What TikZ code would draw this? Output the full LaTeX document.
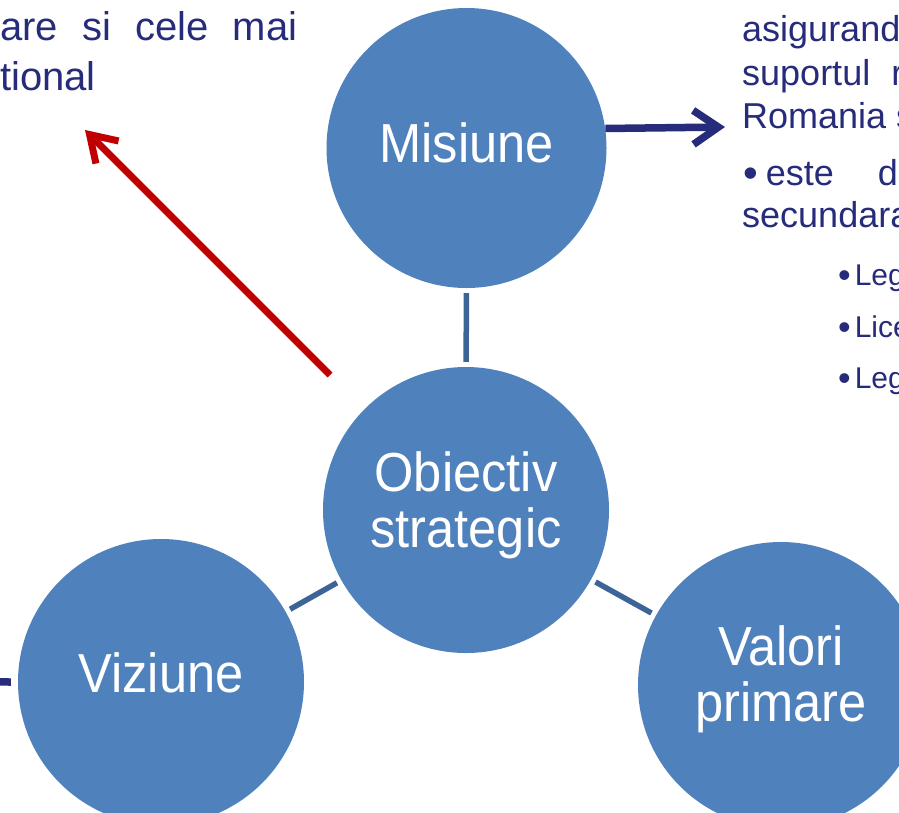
\documentclass[tikz,border=0pt]{standalone}
\usepackage{fontspec}
\setmainfont{Liberation Sans}
\newfontfamily\narrowfont[FakeStretch=0.92]{Liberation Sans}
\usepackage{tikz}
\usetikzlibrary{arrows.meta}
\definecolor{topicfill}{HTML}{4F81BD}
\definecolor{linkcolor}{HTML}{3C6496}
\definecolor{navycolor}{HTML}{262B7A}
\definecolor{redcolor}{HTML}{C00000}
\newcommand{\bigbullet}[1]{\raisebox{-2.5pt}{\fontsize{#1}{#1}\selectfont\textbullet}}

\begin{document}
\begin{tikzpicture}[x=1pt, y=-1pt,
    topic/.style={circle, fill=topicfill, inner sep=0pt, minimum size=286pt, text=white, align=center, font=\narrowfont\fontsize{55}{56}\selectfont},
    link/.style={draw=linkcolor, line width=5.5pt, shorten <=5pt, shorten >=5pt},
    navyarrow/.style={draw=navycolor, line width=7.5pt, -{Straight Barb[length=25pt, width=34pt]}},
    redarrow/.style={draw=redcolor, line width=7pt, -{Straight Barb[length=25pt, width=32pt]}},
    body/.style={text=navycolor, inner sep=0pt, anchor=base west, font=\fontsize{36}{43}\selectfont},
    subbody/.style={body, font=\fontsize{30}{36}\selectfont},
  ]
  \useasboundingbox (0,0) rectangle (899,812);
  \clip (0,0) rectangle (899,812);

  % circles
  \node[topic, minimum size=280pt, text depth=10pt] (misiune) at (466.5,148) {Misiune};
  \node[topic, text depth=20pt] (obiectiv) at (466,510) {Obiectiv\\strategic};
  \node[topic, text depth=18pt] (viziune) at (161,682) {Viziune};
  \node[topic, text depth=22pt] (valori) at (781,685) {Valori\\primare};

  % links
  \draw[link] (misiune) -- (obiectiv);
  \draw[link] (obiectiv) -- (viziune);
  \draw[link] (obiectiv) -- (valori);

  % arrows
  \coordinate (misout) at (725,127);
  \coordinate (redtail) at (330,375);
  \coordinate (redtip) at (85,130);
  \coordinate (vizout) at (-150,681);
  \draw[navyarrow] (misiune.8.6) -- (misout);
  \draw[redarrow] (redtail) -- (redtip);
  \draw[navyarrow] ([xshift=-7pt]viziune.west) -- (vizout);

  % text left
  \node[body, font=\fontsize{40}{50}\selectfont] (lefttop) at (0,40.5) {\makebox[297pt][s]{are si cele mai}};
  \node[body, font=\fontsize{40}{50}\selectfont] (leftbot) at (0,90.5) {tional};

  % text right
  \node[body] (rline1) at (742,41.5) {asigurand};
  \node[body] (rline2) at (742,85) {suportul\hspace{21pt}r};
  \node[body] (rline3) at (742,128) {Romania s};
  \node[body] (rline4) at (743,185) {\bigbullet{42}\hspace{8pt}este\hspace{44pt}de};
  \node[body] (rline5) at (742,227) {secundara};
  \node[subbody] (sub1) at (838,285) {\bigbullet{36}\hspace{4pt}Leg};
  \node[subbody] (sub2) at (838,337) {\bigbullet{36}\hspace{4pt}Lice};
  \node[subbody] (sub3) at (838,388) {\bigbullet{36}\hspace{4pt}Leg};
\end{tikzpicture}
\end{document}
